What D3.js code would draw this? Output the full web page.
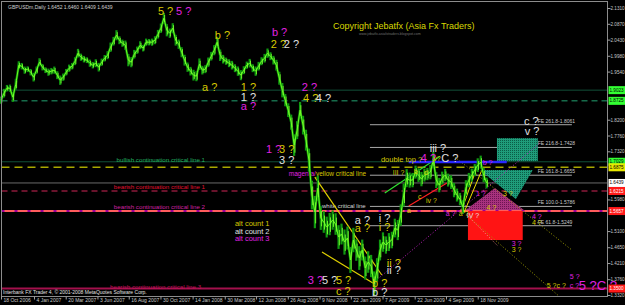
<!DOCTYPE html>
<html>
<head>
<meta charset="utf-8">
<script src="https://cdn.jsdelivr.net/npm/d3@7"></script>
<style>
body{margin:0;background:#000;}
svg{display:block;font-family:"Liberation Sans",Arial,sans-serif;}
</style>
</head>
<body>
<script>

var width = 625, height = 305;
var frame = {left: 1.5, right: 607.5, top: 1.5, bottom: 296.5};

// x axis labels (MT4 date scale)
var dateLabels = ["18 Oct 2006","4 Jan 2007","20 Mar 2007","3 Jun 2007","16 Aug 2007","30 Oct 2007",
    "14 Jan 2008","30 Mar 2008","12 Jun 2008","26 Aug 2008","9 Nov 2008","22 Jan 2009",
    "7 Apr 2009","22 Jun 2009","4 Sep 2009","18 Nov 2009"];

var priceTicks = [2.1310,2.0870,2.0430,1.9980,1.9540,1.9090,1.8650,1.8200,1.7760,1.7320,
    1.6870,1.6430,1.5980,1.5540,1.5100,1.4650,1.4210,1.3760,1.3320];

// weekly closes GBPUSD, starting 18 Oct 2006
var weeklyClose = [
1.8744,1.8939,1.9078,1.9078,1.8828,1.9189,1.9718,1.9690,1.9579,1.9606,
1.9523,1.9384,1.9579,1.9801,1.9662,1.9579,1.9523,1.9551,1.9579,1.9440,
1.9300,1.9384,1.9523,1.9634,1.9690,1.9829,2.0052,1.9940,1.9885,1.9857,
1.9773,1.9718,1.9773,1.9662,1.9801,1.9912,1.9996,2.0218,2.0385,2.0552,
2.0413,2.0330,2.0274,1.9857,1.9801,2.0024,2.0135,2.0274,2.0191,2.0358,
2.0358,2.0358,2.0413,2.0580,2.0747,2.1025,2.0691,2.0608,2.0747,2.0413,
2.0302,2.0079,1.9857,1.9662,1.9551,1.9440,1.9412,1.9745,1.9579,1.9606,
1.9801,1.9968,2.0135,2.0358,1.9996,1.9885,1.9829,1.9773,1.9718,1.9634,
1.9551,1.9440,1.9579,1.9718,1.9773,1.9634,1.9551,1.9690,1.9829,1.9912,
2.0052,1.9968,1.9857,1.9718,1.9356,1.9022,1.8744,1.8466,1.8132,1.7492,
1.7910,1.8466,1.8049,1.7631,1.7075,1.6102,1.5629,1.6296,1.5462,1.5351,
1.5211,1.5295,1.5406,1.5295,1.4933,1.5017,1.4794,1.4906,1.4294,1.4850,
1.4572,1.4349,1.4572,1.4071,1.4238,1.4127,1.3626,1.4015,1.4572,1.4794,
1.4711,1.4794,1.4850,1.5184,1.5128,1.5545,1.6102,1.6574,1.6519,1.6519,
1.6741,1.6658,1.6547,1.6658,1.6686,1.6741,1.7075,1.6519,1.6380,1.6574,
1.6658,1.6519,1.6463,1.6241,1.6102,1.5990,1.5768,1.6296,1.6519,1.6658,
1.6797,1.6936,1.7020,1.6658,1.6439];

// weekly high-low range
var weeklyRange = [
.020,.024,.018,.020,.026,.030,.022,.018,.020,.016,
.018,.024,.020,.022,.018,.016,.020,.018,.020,.022,
.026,.020,.018,.020,.018,.022,.024,.020,.018,.016,
.020,.018,.022,.024,.020,.018,.022,.026,.024,.028,
.022,.020,.026,.034,.028,.024,.020,.022,.018,.020,
.018,.020,.022,.024,.026,.030,.034,.026,.028,.030,
.026,.028,.030,.026,.024,.030,.028,.032,.024,.022,
.026,.024,.028,.030,.032,.024,.020,.022,.024,.022,
.026,.028,.022,.020,.024,.022,.026,.024,.022,.024,
.026,.022,.024,.030,.036,.040,.034,.038,.042,.060,
.050,.046,.052,.058,.064,.080,.090,.070,.066,.060,
.058,.062,.054,.060,.066,.058,.070,.064,.072,.068,
.060,.066,.058,.064,.060,.062,.070,.066,.058,.054,
.048,.050,.046,.052,.056,.060,.064,.050,.042,.040,
.036,.038,.040,.036,.034,.040,.046,.044,.040,.036,
.034,.036,.038,.040,.036,.034,.038,.044,.040,.036,
.034,.038,.036,.040,.030];

// horizontal levels drawn across the whole chart
var levelPrices = [1.9023,1.8725,1.7029,1.6875,1.6439,1.6215,1.5657,1.3500];
var levelKinds  = ["bullDot","bullDash","bullDot","yellow","bid","bear1","bear2","bear3"];

// notes sitting on the levels: text, week, price, kind
var levelNotes = [
    ["bullish continuation critical line 1", 68.9, 1.7103, "bullDot"],
    ["bearish continuation critical line 1", 68.9, 1.6352, "bear1"],
    ["bearish continuation critical line 2", 68.9, 1.5796, "bear2"],
    ["bearish continuation critical line 3", 67.6, 1.3570, "bear3"]
];

// fibonacci expansion
var fePercents = ["261.8","216.8","161.8","100.0","61.8"];
var fePrices = [1.8061,1.7428,1.6655,1.5786,1.5249];
var feSpan = [124.6, 192.8];

// trend lines: week1, price1, week2, price2, kind
var trendLines = [
    [106.0,1.6602,128.6,1.3876,"wedge"],
    [108.4,1.4516,125.6,1.3654,"wedge"],
    [125.6,1.3654,182.0,1.7548,"magentaDot"],
    [129.6,1.6157,148.3,1.7186,"green"],
    [137.7,1.5796,150.6,1.6435,"red"],
    [155.6,1.5684,161.0,1.6936,"impulse"],
    [156.3,1.5601,162.4,1.6797,"impulse"],
    [153.3,1.7159,192.8,1.4572,"oliveDot"],
    [157.3,1.5545,188.0,1.3320,"oliveDot"],
    [157.7,1.5517,167.8,1.4684,"redDot"],
    [137.7,1.7020,170.8,1.7020,"blue"]
];

// target zones
var tealBox = [167.5,1.7687,181.3,1.7047];
var tealTriangle = [[161.7,1.6797],[179.6,1.6797],[173.9,1.5990]];
var purpleTriangle = [[166.8,1.6296],[176.6,1.5684],[156.9,1.5684]];
var redBox = [157.7,1.5657,176.2,1.4850];

// wave labels: text, week, price, count (1 yellow / 2 white / 3 magenta), degree
var waveLabels = [
    ["5 ?",53.0,2.1220,1,"major"], ["5 ?",59.1,2.1220,3,"major"],
    ["b ?",72.2,2.0552,1,"major"], ["b ?",91.5,2.0636,3,"major"],
    ["2 ?",91.1,2.0302,1,"major"], ["2 ?",95.5,2.0302,2,"major"],
    ["a ?",67.9,1.9106,1,"major"], ["1 ?",81.0,1.9106,1,"major"],
    ["1 ?",81.0,1.8828,2,"major"], ["a ?",81.0,1.8577,3,"major"],
    ["2 ?",101.6,1.9106,3,"major"], ["4 ?",102.0,1.8800,1,"major"],
    ["4 ?",106.3,1.8800,2,"major"], ["1 ?",89.5,1.7381,3,"major"],
    ["3 ?",93.9,1.7381,1,"major"], ["3 ?",93.9,1.7075,2,"major"],
    ["3 ?",103.6,1.3737,3,"major"], ["5 ?",108.4,1.3737,2,"major"],
    ["5 ?",113.1,1.3737,1,"major"], ["c ?",113.1,1.3431,1,"major"],
    ["b ?",125.3,1.3654,1,"major"], ["b ?",125.3,1.3403,2,"major"],
    ["a ?",119.5,1.5406,2,"major"], ["a ?",119.5,1.5184,1,"major"],
    ["i ?",127.6,1.5462,2,"major"], ["i ?",127.6,1.5211,1,"major"],
    ["ii ?",130.3,1.4210,1,"major"], ["ii ?",130.3,1.4015,2,"major"],
    ["iii ?",144.8,1.7409,2,"major"], ["III ?",132.3,1.6741,1,"minor"],
    ["c ?",176.6,1.8160,2,"major"], ["v ?",176.9,1.7882,2,"major"],
    ["4 ?",141.8,1.7131,3,"major"], ["v?",146.0,1.7131,1,"minor"],
    ["C ?",148.7,1.7131,2,"major"],
    ["b",139.4,1.6769,1,"minor"], ["d",142.8,1.6741,1,"minor"],
    ["iv ?",143.5,1.5963,1,"minor"], ["c",140.8,1.6074,1,"minor"],
    ["a",137.1,1.5684,1,"minor"],
    ["a ?",150.2,1.5601,3,"minor"], ["a ?",154.6,1.5601,1,"minor"],
    ["IV ?",157.3,1.5545,2,"minor"], ["b ?",162.7,1.7020,3,"minor"],
    ["1 ?",160.4,1.6157,3,"minor"], ["3 ?",169.5,1.6157,1,"minor"],
    ["4 ?",164.0,1.5768,1,"minor"],
    ["4 ?",179.3,1.5517,3,"minor"], ["4 ?",179.3,1.5351,1,"minor"],
    ["3 ?",172.5,1.4766,3,"minor"], ["3 ?",172.5,1.4600,1,"minor"],
    ["5 ?c ?",184.3,1.3598,1,"minor"], ["c ?",192.1,1.3598,3,"minor"],
    ["5 ?",192.1,1.3848,3,"minor"], ["5 ?C ?",195.1,1.3598,3,"big"]
];

var countNames = ["alt count 1","alt count 2","alt count 3"];
var countPrices = [1.5323,1.5100,1.4906];

var xScale = d3.scaleLinear().domain([0, 205]).range([1, 608]);
var yScale = d3.scaleLinear().domain([1.3320, 2.1310]).range([295, 8]);

var countColor = d3.scaleOrdinal().domain([1,2,3]).range(["#d8c800","#e0e0e0","#e020e0"]);
var degreeSize = {major: 11, minor: 7, big: 13};

var parseDate = d3.timeParse("%d %b %Y");
var startDate = parseDate(dateLabels[0]);
function toWeek(label){ return d3.timeDay.count(startDate, parseDate(label)) / 7; }

var svg = d3.select("body").append("svg")
    .attr("width", width)
    .attr("height", height)
    .style("background", "#000");

var defs = svg.append("defs");
function dotPattern(id, bg, dot){
    var p = defs.append("pattern").attr("id", id)
        .attr("width", 2).attr("height", 2).attr("patternUnits", "userSpaceOnUse");
    p.append("rect").attr("width", 2).attr("height", 2).attr("fill", bg);
    p.append("rect").attr("width", 1).attr("height", 1).attr("fill", dot);
}
dotPattern("tealDots", "#1f9c7a", "#0b5c46");
dotPattern("purpleDots", "#a8327e", "#6c1452");

var levelStyle = {
    bullDot:  {color: "#22a070", dash: "1,1", w: 1},
    bullDash: {color: "#22a070", dash: "6,4", w: 1},
    yellow:   {color: "#a8a800", dash: "8,5", w: 1.5},
    bid:      {color: "#6a6a6a", dash: null, w: 1},
    bear1:    {color: "#8a1a3a", dash: "6,4", w: 1.5},
    bear2:    {color: "#ff5c5c", dash: null, w: 2},
    bear3:    {color: "#a3104c", dash: null, w: 2}
};
var noteColor = {bullDot: "#22b060", bear1: "#e01030", bear2: "#d020a0", bear3: "#c0105a"};

function drawLevels(){
    levelPrices.forEach(function(p, i){
        var s = levelStyle[levelKinds[i]];
        svg.append("line")
            .attr("x1", frame.left).attr("x2", frame.right)
            .attr("y1", yScale(p)).attr("y2", yScale(p))
            .attr("stroke", s.color).attr("stroke-width", s.w)
            .attr("stroke-dasharray", s.dash);
        if (levelKinds[i] == "bear2") {
            // purple dashes over the salmon line
            svg.append("line")
                .attr("x1", frame.left).attr("x2", frame.right)
                .attr("y1", yScale(p)).attr("y2", yScale(p))
                .attr("stroke", "#9a009a").attr("stroke-width", 2)
                .attr("stroke-dasharray", "3,10");
        }
    });
    levelNotes.forEach(function(n){
        svg.append("text")
            .attr("x", xScale(n[1])).attr("y", yScale(n[2]))
            .attr("text-anchor", "end").attr("dominant-baseline", "central")
            .attr("font-size", "6.2px").attr("fill", noteColor[n[3]])
            .text(n[0]);
    });
}

function drawFibo(){
    fePrices.forEach(function(p, i){
        svg.append("line")
            .attr("x1", xScale(feSpan[0])).attr("x2", xScale(feSpan[1]))
            .attr("y1", yScale(p)).attr("y2", yScale(p))
            .attr("stroke", "#a8a8a8").attr("stroke-width", 1);
        svg.append("text")
            .attr("x", xScale(181.3)).attr("y", yScale(p) - 2)
            .attr("font-size", "5px").attr("fill", "#c8c8c8")
            .text("FE " + fePercents[i] + "-" + p.toFixed(4));
    });
    svg.append("text")
        .attr("x", xScale(108.4)).attr("y", yScale(1.5800))
        .attr("dominant-baseline", "central")
        .attr("font-size", "6px").attr("fill", "#d8d8d8")
        .text("white critical line");
    var t = svg.append("text")
        .attr("x", xScale(97.2)).attr("y", yScale(1.6714))
        .attr("dominant-baseline", "central").attr("font-size", "6.5px");
    t.append("tspan").attr("fill", "#e020e0").text("magenta/");
    t.append("tspan").attr("fill", "#d8c800").text("yellow critical line");
}

function drawZones(){
    svg.append("rect")
        .attr("x", xScale(tealBox[0])).attr("y", yScale(tealBox[1]))
        .attr("width", xScale(tealBox[2]) - xScale(tealBox[0]))
        .attr("height", yScale(tealBox[3]) - yScale(tealBox[1]))
        .attr("fill", "url(#tealDots)");
    var line = d3.line().x(function(d){ return xScale(d[0]); }).y(function(d){ return yScale(d[1]); });
    svg.append("path").attr("d", line(tealTriangle) + "Z").attr("fill", "url(#tealDots)");
    svg.append("rect")
        .attr("x", xScale(redBox[0])).attr("y", yScale(redBox[1]))
        .attr("width", xScale(redBox[2]) - xScale(redBox[0]))
        .attr("height", yScale(redBox[3]) - yScale(redBox[1]))
        .attr("fill", "#ff1414");
    svg.append("path").attr("d", line(purpleTriangle) + "Z").attr("fill", "url(#purpleDots)");
}

var trendStyle = {
    wedge:      {color: "#e0d000", dash: null, w: 1.2},
    magentaDot: {color: "#c020c0", dash: "1,2", w: 1},
    green:      {color: "#30e030", dash: null, w: 1.2},
    red:        {color: "#ff2020", dash: null, w: 1.2},
    impulse:    {color: "#f0e000", dash: null, w: 1},
    oliveDot:   {color: "#a0a000", dash: "1,2", w: 1},
    redDot:     {color: "#ff9090", dash: "1,2", w: 1},
    blue:       {color: "#2828ff", dash: null, w: 2.5}
};

function drawTrendLines(){
    trendLines.forEach(function(t){
        var s = trendStyle[t[4]];
        svg.append("line")
            .attr("x1", xScale(t[0])).attr("y1", yScale(t[1]))
            .attr("x2", xScale(t[2])).attr("y2", yScale(t[3]))
            .attr("stroke", s.color).attr("stroke-width", s.w)
            .attr("stroke-dasharray", s.dash);
    });
}

function drawPrice(){
    // weekly ranges as dark green bars, closes as a lime line
    svg.append("g").selectAll("line")
        .data(weeklyClose)
        .join("line")
        .attr("x1", function(d, i){ return xScale(i); })
        .attr("x2", function(d, i){ return xScale(i); })
        .attr("y1", function(d, i){ return yScale(d + weeklyRange[i] * 0.5); })
        .attr("y2", function(d, i){ return yScale(d - weeklyRange[i] * 0.5); })
        .attr("stroke", "#109a10").attr("stroke-width", 2.2);
    var line = d3.line()
        .x(function(d, i){ return xScale(i); })
        .y(function(d){ return yScale(d); });
    svg.append("path").datum(weeklyClose)
        .attr("d", line).attr("fill", "none")
        .attr("stroke", "#0c8a0c").attr("stroke-width", 2.4);
    svg.append("path").datum(weeklyClose)
        .attr("d", line).attr("fill", "none")
        .attr("stroke", "#6cff20").attr("stroke-width", 1);
    svg.append("g").selectAll("line")
        .data(weeklyClose)
        .join("line")
        .attr("x1", function(d, i){ return xScale(i) + 0.8; })
        .attr("x2", function(d, i){ return xScale(i) + 0.8; })
        .attr("y1", function(d, i){ return yScale(d + weeklyRange[i] * 0.3); })
        .attr("y2", function(d, i){ return yScale(d - weeklyRange[i] * 0.35); })
        .attr("stroke", "#7cff30").attr("stroke-width", 0.9);
}

function drawWaves(){
    waveLabels.forEach(function(l){
        svg.append("text")
            .attr("x", xScale(l[1])).attr("y", yScale(l[2]))
            .attr("dominant-baseline", "central")
            .attr("font-size", degreeSize[l[4]] + "px")
            .attr("fill", countColor(l[3]))
            .text(l[0]);
    });
    countNames.forEach(function(n, i){
        svg.append("text")
            .attr("x", xScale(79.0)).attr("y", yScale(countPrices[i]))
            .attr("dominant-baseline", "central")
            .attr("font-size", "7.5px").attr("fill", countColor(i + 1))
            .text(n);
    });
    svg.append("text")
        .attr("x", xScale(128.3)).attr("y", yScale(1.7103))
        .attr("dominant-baseline", "central")
        .attr("font-size", "7.5px").attr("fill", "#d8c800")
        .text("double top ?");
}

function drawAxes(){
    svg.append("rect")
        .attr("x", frame.left).attr("y", frame.top)
        .attr("width", frame.right - frame.left).attr("height", frame.bottom - frame.top)
        .attr("fill", "none").attr("stroke", "#8c8c8c");

    var xAxis = d3.axisBottom(xScale)
        .tickValues(dateLabels.map(toWeek))
        .tickFormat(function(d, i){ return dateLabels[i]; })
        .tickSize(3);
    var gx = svg.append("g").attr("transform", "translate(0," + frame.bottom + ")").call(xAxis);
    gx.select(".domain").remove();
    gx.selectAll("line").attr("stroke", "#a0a0a0");
    gx.selectAll("text").attr("fill", "#c8c8c8").attr("font-size", "5px")
        .attr("text-anchor", "start").attr("x", 2).attr("y", 2).attr("dy", "0.71em");

    // tick labels hidden where a price marker sits on the scale
    var shownTicks = priceTicks.filter(function(t){
        return levelPrices.every(function(p){ return Math.abs(yScale(t) - yScale(p)) > 6; });
    });
    var yAxis = d3.axisRight(yScale)
        .tickValues(shownTicks)
        .tickFormat(d3.format(".4f"))
        .tickSize(3);
    var gy = svg.append("g").attr("transform", "translate(" + frame.right + ",0)").call(yAxis);
    gy.select(".domain").remove();
    gy.selectAll("line").attr("stroke", "#a0a0a0");
    gy.selectAll("text").attr("fill", "#c8c8c8").attr("font-size", "4.6px").attr("x", 3);

    // price markers on the scale
    var markerFill = {bullDot: "#33ff33", bullDash: "#33ff33", yellow: "#e8e800", bid: "#ffffff",
        bear1: "#ff1a1a", bear2: "#ff1a1a", bear3: "#ff1a1a"};
    levelPrices.forEach(function(p, i){
        svg.append("rect")
            .attr("x", frame.right + 1).attr("y", yScale(p) - 4)
            .attr("width", 17).attr("height", 8)
            .attr("fill", markerFill[levelKinds[i]]);
        svg.append("text")
            .attr("x", frame.right + 2).attr("y", yScale(p))
            .attr("dominant-baseline", "central")
            .attr("font-size", "4.6px")
            .attr("fill", levelKinds[i].indexOf("bear") == 0 ? "#ffffff" : "#000000")
            .text(p.toFixed(4));
    });

    svg.append("text").attr("x", 8).attr("y", 7)
        .attr("dominant-baseline", "central").attr("font-size", "5px").attr("fill", "#d0d0d0")
        .text("GBPUSDm,Daily  1.6452 1.6460 1.6409 1.6439");
    svg.append("text").attr("x", 3).attr("y", 292)
        .attr("dominant-baseline", "central").attr("font-size", "5px").attr("fill", "#e0e0e0")
        .text("Interbank FX Trader 4, \u00a9 2001-2008 MetaQuotes Software Corp.");
    svg.append("text").attr("x", 333).attr("y", 26)
        .attr("dominant-baseline", "central").attr("font-size", "9px").attr("fill", "#d8d800")
        .text("Copyright Jebatfx (Asia Fx Traders)");
    svg.append("text").attr("x", 359).attr("y", 34)
        .attr("dominant-baseline", "central").attr("font-size", "3.5px").attr("fill", "#707070")
        .text("www.jebatfx-asiafxtraders.blogspot.com");
}

drawLevels();
drawFibo();
drawZones();
drawTrendLines();
drawPrice();
drawWaves();
drawAxes();

</script>
</body>
</html>
